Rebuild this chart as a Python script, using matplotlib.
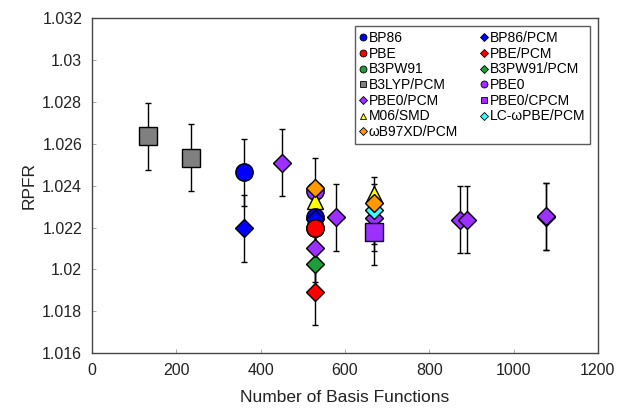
import numpy as np
import matplotlib
matplotlib.use("Agg")
import matplotlib.pyplot as plt
from matplotlib.lines import Line2D
from matplotlib.ticker import FuncFormatter, MultipleLocator

plt.rcParams['font.family'] = ['Liberation Sans', 'DejaVu Sans']

# RPFR vs basis set size, one list per functional / solvation model
b3lyp_pcm_x = [133, 234]
b3lyp_pcm_y = [1.02637, 1.02534]
b3lyp_pcm_err = [0.0016, 0.0016]

pbe0_x = [530]
pbe0_y = [1.02374]
pbe0_err = [0.0016]

m06_smd_x = [530, 669]
m06_smd_y = [1.02329, 1.02358]
m06_smd_err = [0.0, 0.0]

bp86_x = [360, 530]
bp86_y = [1.02465, 1.02251]
bp86_err = [0.0016, 0.0016]

bp86_pcm_x = [360, 530]
bp86_pcm_y = [1.02196, 1.02242]
bp86_pcm_err = [0.0016, 0.0016]

b3pw91_x = [530]
b3pw91_y = [1.02198]
b3pw91_err = [0.0016]

pbe_x = [530]
pbe_y = [1.02198]
pbe_err = [0.0016]

pbe_pcm_x = [530]
pbe_pcm_y = [1.01894]
pbe_pcm_err = [0.0016]

b3pw91_pcm_x = [530]
b3pw91_pcm_y = [1.02027]
b3pw91_pcm_err = [0.0016]

pbe0_pcm_x = [450, 530, 578, 669, 873, 890, 1077, 1077]
pbe0_pcm_y = [1.02510, 1.02102, 1.02249, 1.02246, 1.02238, 1.02238, 1.02251, 1.02253]
pbe0_pcm_err = [0.0016, 0.0016, 0.0016, 0.0016, 0.0016, 0.0016, 0.0016, 0.0016]

pbe0_cpcm_x = [669]
pbe0_cpcm_y = [1.02179]
pbe0_cpcm_err = [0.0016]

lc_wpbe_pcm_x = [669]
lc_wpbe_pcm_y = [1.02283]
lc_wpbe_pcm_err = [0.0016]

wb97xd_pcm_x = [530, 669]
wb97xd_pcm_y = [1.02387, 1.02318]
wb97xd_pcm_err = [0.0, 0.0]

# (label, x, y, err, marker, color) in drawing order
series = [
    ('B3LYP/PCM', b3lyp_pcm_x, b3lyp_pcm_y, b3lyp_pcm_err, 's', '#808080'),
    ('PBE0', pbe0_x, pbe0_y, pbe0_err, 'o', '#9b30ff'),
    ('M06/SMD', m06_smd_x, m06_smd_y, m06_smd_err, '^', '#ffff00'),
    ('B3PW91', b3pw91_x, b3pw91_y, b3pw91_err, 'o', '#1e9e3a'),
    ('BP86', bp86_x, bp86_y, bp86_err, 'o', '#0000ff'),
    ('BP86/PCM', bp86_pcm_x, bp86_pcm_y, bp86_pcm_err, 'D', '#0000ff'),
    ('PBE', pbe_x, pbe_y, pbe_err, 'o', '#ff0000'),
    ('PBE/PCM', pbe_pcm_x, pbe_pcm_y, pbe_pcm_err, 'D', '#ff0000'),
    ('B3PW91/PCM', b3pw91_pcm_x, b3pw91_pcm_y, b3pw91_pcm_err, 'D', '#1e9e3a'),
    ('PBE0/PCM', pbe0_pcm_x, pbe0_pcm_y, pbe0_pcm_err, 'D', '#9b30ff'),
    ('PBE0/CPCM', pbe0_cpcm_x, pbe0_cpcm_y, pbe0_cpcm_err, 's', '#9b30ff'),
    ('LC-ωPBE/PCM', lc_wpbe_pcm_x, lc_wpbe_pcm_y, lc_wpbe_pcm_err, 'D', '#33ffff'),
    ('ωB97XD/PCM', wb97xd_pcm_x, wb97xd_pcm_y, wb97xd_pcm_err, 'D', '#ff9900'),
]

legend_order = ['BP86', 'PBE', 'B3PW91', 'B3LYP/PCM', 'PBE0/PCM', 'M06/SMD', 'ωB97XD/PCM',
                'BP86/PCM', 'PBE/PCM', 'B3PW91/PCM', 'PBE0', 'PBE0/CPCM', 'LC-ωPBE/PCM']

marker_size = {'o': 12.5, 's': 12.5, 'D': 9.2, '^': 11}

fig = plt.figure(figsize=(6.17, 4.13), dpi=100)
ax = fig.add_axes([0.149, 0.145, 0.82, 0.811])

handles = {}
for i, (label, x, y, err, mk, col) in enumerate(series):
    x = np.array(x)
    y = np.array(y)
    err = np.array(err)
    has_err = err > 0
    if has_err.any():
        ax.errorbar(x[has_err], y[has_err], yerr=err[has_err], fmt='none',
                    ecolor='black', elinewidth=1.0, capsize=2.2, capthick=1.0, zorder=1)
    ax.plot(x, y, linestyle='none', marker=mk, markersize=marker_size[mk],
            markerfacecolor=col, markeredgecolor='black', markeredgewidth=1.0,
            zorder=3 + i * 0.01)
    handles[label] = Line2D([], [], linestyle='none', marker=mk,
                            markersize=5 if mk != 'D' else 4,
                            markerfacecolor=col, markeredgecolor='black',
                            markeredgewidth=0.6)

leg = ax.legend([handles[k] for k in legend_order], legend_order, ncol=2,
                loc='upper right', bbox_to_anchor=(0.984, 0.976), borderaxespad=0,
                fontsize=10, frameon=True, fancybox=False, edgecolor='#333333',
                handlelength=0.5, handletextpad=0.15, labelspacing=0.12,
                columnspacing=1.6, borderpad=0.35)
leg.get_frame().set_linewidth(1.0)
leg.set_zorder(5)

ax.set_xlim(0, 1200)
ax.set_ylim(1.016, 1.032)
ax.xaxis.set_major_locator(MultipleLocator(200))
ax.yaxis.set_major_locator(MultipleLocator(0.002))
ax.yaxis.set_major_formatter(FuncFormatter(lambda v, p: '%g' % round(v, 4)))
ax.tick_params(direction='in', length=3, width=0.6, color='#999999',
               labelsize=11.5, labelcolor='#222222', pad=7)

for sp in ax.spines.values():
    sp.set_color('#444444')
    sp.set_linewidth(1.0)

ax.set_xlabel('Number of Basis Functions', fontsize=12.5, color='#222222', labelpad=9)
ax.set_ylabel('RPFR', fontsize=12.5, color='#222222', labelpad=4)

fig.savefig('out.png', dpi=100)
